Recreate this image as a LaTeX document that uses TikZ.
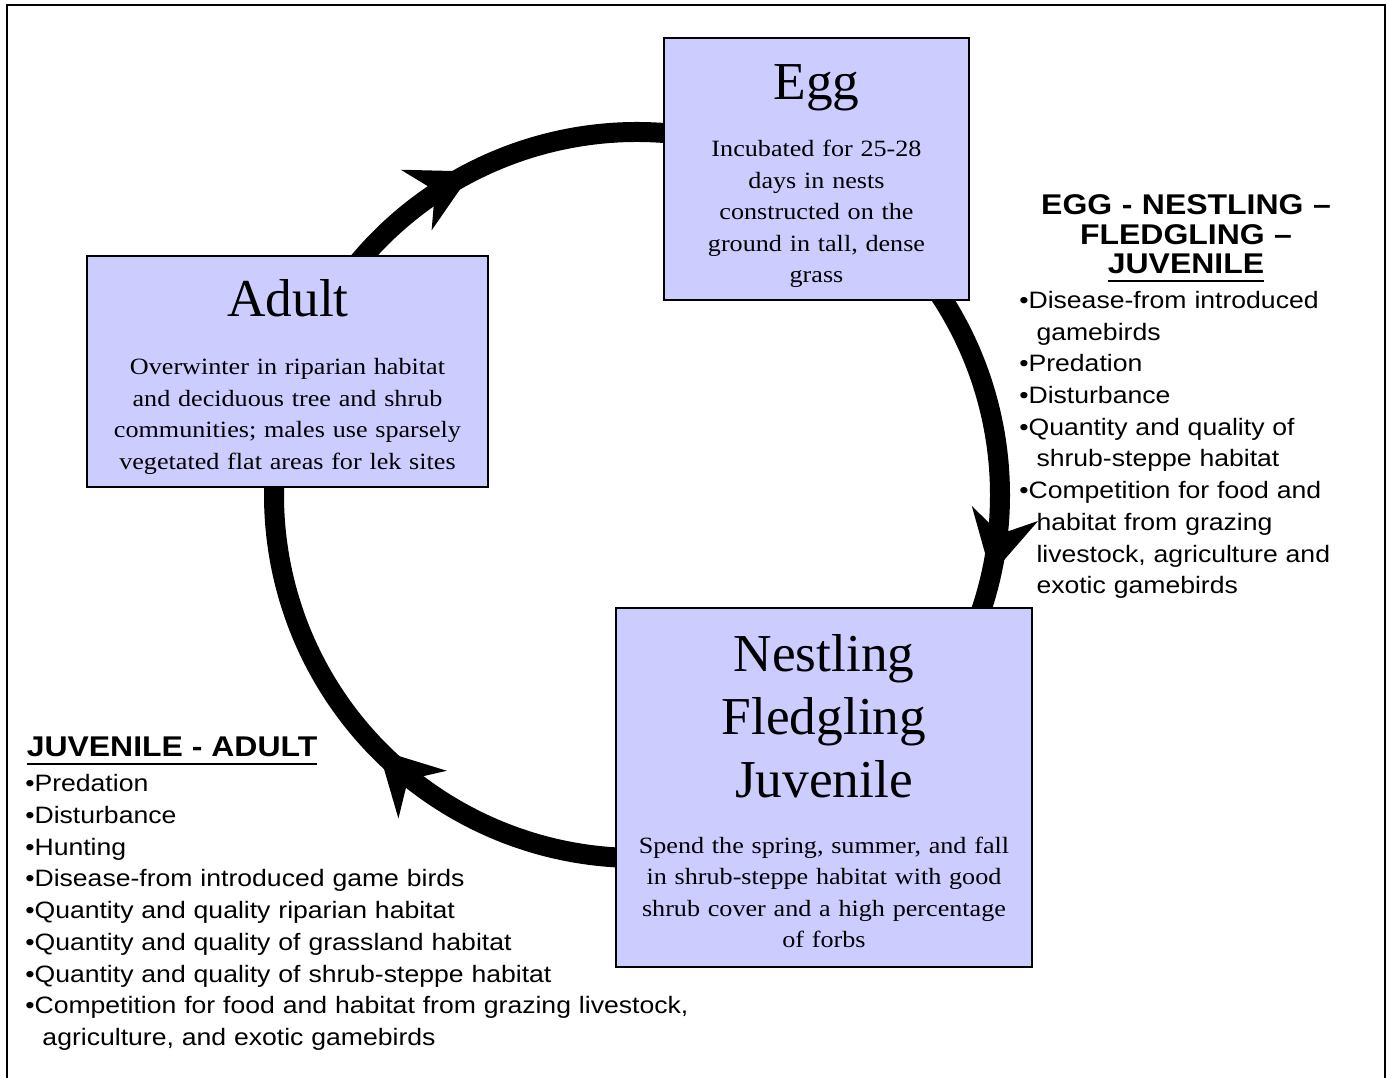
\documentclass[tikz,border=0pt]{standalone}
\usepackage{fontspec}
\setmainfont{Liberation Serif}
\newfontfamily\bodyserif[FakeStretch=1.12]{Liberation Serif}
\newfontfamily\listsans[FakeStretch=1.12]{Liberation Sans}
\usetikzlibrary{decorations.markings}
\definecolor{boxfill}{HTML}{CCCCFF}
\newcommand{\myul}[1]{\leavevmode\setbox0=\hbox{#1}\rlap{\rule[-6pt]{\wd0}{1.5pt}}\box0}
\newcommand{\contind}{\leavevmode\phantom{•}\ }
\begin{document}
\begin{tikzpicture}[x=0.75pt,y=0.75pt,
  stagebox/.style={draw=black,line width=1.5pt,fill=boxfill,inner sep=0pt},
  cycarc/.style={line width=15pt,draw=black},
  headmark/.style={postaction={decorate,decoration={markings,
     mark=at position #1 with {\fill[black] (0,0) -- (-63,34) -- (-42,0) -- (-63,-34) -- cycle;}}}},
  titletext/.style={inner sep=0pt,anchor=base,align=center,text width=320pt,
     font=\fontsize{40}{47}\selectfont},
  bodytext/.style={inner sep=0pt,anchor=base,align=center,text width=320pt,
     font=\bodyserif\fontsize{17.5}{23.6}\selectfont},
  listhead/.style={inner sep=0pt,font=\listsans\bfseries\fontsize{21.4}{22}\selectfont},
  listtext/.style={inner sep=0pt,anchor=base west,align=left,text width=520pt,
     font=\listsans\fontsize{17.8}{23.8}\selectfont},
]
\useasboundingbox (0,0) rectangle (1387,1077);
\draw[line width=1.5pt] (7,-10) -- (7,1072) -- (1385,1072) -- (1385,-10);

% cycle arcs
\coordinate (cc) at (637,582);
\draw[cycarc,headmark=0.397] ([shift={(140:363)}]cc) arc[start angle=140,end angle=82,radius=272.25pt];
\draw[cycarc,headmark=0.84] ([shift={(36:363)}]cc) arc[start angle=36,end angle=-22,radius=272.25pt];
\draw[cycarc,headmark=0.494] ([shift={(-88:363)}]cc) arc[start angle=-88,end angle=-184,radius=272.25pt];

% stage boxes
\node[stagebox,minimum width=228.75pt,minimum height=196.5pt] (egg) at (816.5,908) {};
\node[stagebox,minimum width=300.75pt,minimum height=173.25pt] (adult) at (287.5,705.5) {};
\node[stagebox,minimum width=312pt,minimum height=269.25pt] (nest) at (824,289.5) {};

\node[titletext] (eggT) at (816.5,977) {Egg};
\node[bodytext] (eggB) at (816.5,920.3) {Incubated for 25-28\\days in nests\\constructed on the\\ground in tall, dense\\grass};
\node[titletext] (adultT) at (288,760.3) {Adult};
\node[bodytext] (adultB) at (287.5,702) {Overwinter in riparian habitat\\and deciduous tree and shrub\\communities; males use sparsely\\vegetated flat areas for lek sites};
\node[titletext] (nestT) at (824,405.3) {Nestling\\Fledgling\\Juvenile};
\node[bodytext] (nestB) at (824,223.7) {Spend the spring, summer, and fall\\in shrub-steppe habitat with good\\shrub cover and a high percentage\\of forbs};

% right list
\node[listhead,anchor=base,align=center,text width=320pt] (ejHead) at (1186,862) {EGG - NESTLING –\\FLEDGLING –\\\myul{JUVENILE}};
\node[listtext] (ejList) at (1019,768.7) {•Disease-from introduced\\\contind gamebirds\\•Predation\\•Disturbance\\•Quantity and quality of\\\contind shrub-steppe habitat\\•Competition for food and\\\contind habitat from grazing\\\contind livestock, agriculture and\\\contind exotic gamebirds};

% left list
\node[listhead,anchor=base west] (jaHead) at (26.5,320.3) {\myul{JUVENILE - ADULT}};
\node[listtext] (jaList) at (25,285.3) {•Predation\\•Disturbance\\•Hunting\\•Disease-from introduced game birds\\•Quantity and quality riparian habitat\\•Quantity and quality of grassland habitat\\•Quantity and quality of shrub-steppe habitat\\•Competition for food and habitat from grazing livestock,\\\contind agriculture, and exotic gamebirds};
\end{tikzpicture}
\end{document}
